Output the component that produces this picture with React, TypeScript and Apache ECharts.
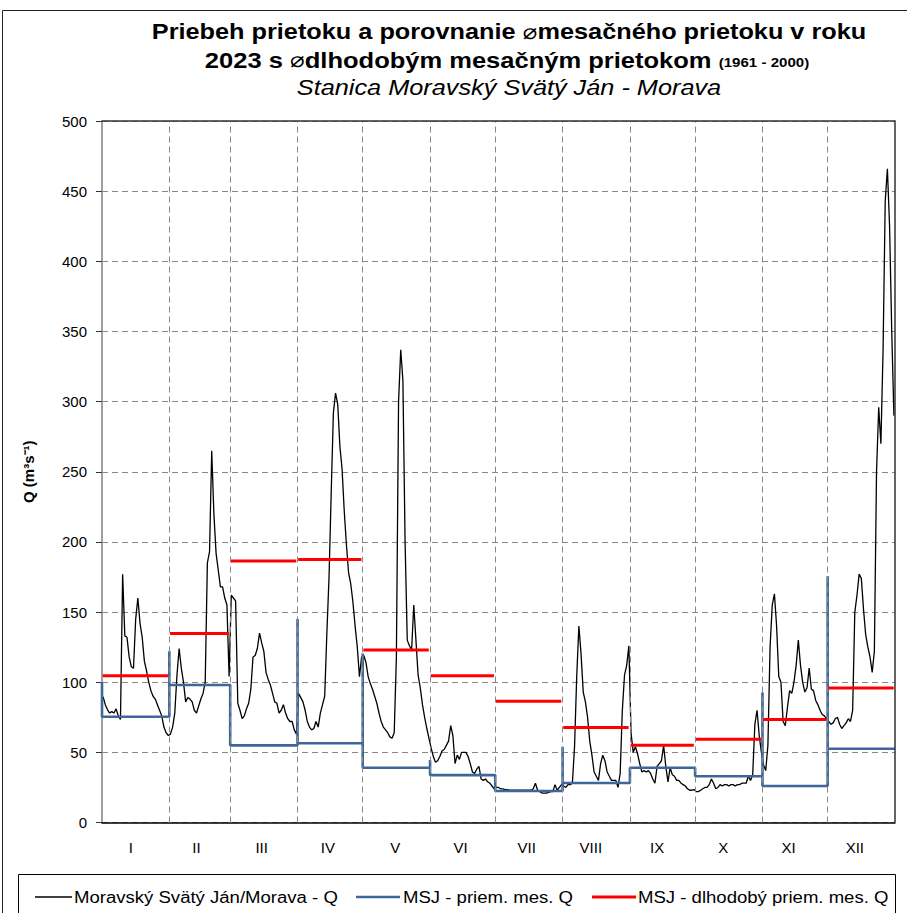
import React, { useEffect, useRef } from "react";
import * as echarts from "echarts";

// ---- data ----
const months = ["I", "II", "III", "IV", "V", "VI", "VII", "VIII", "IX", "X", "XI", "XII"];
const monthStartDays = [0, 31, 59, 90, 120, 151, 181, 212, 243, 273, 304, 334, 365];
const monthLabelDays = [13.3, 43.5, 73.5, 104, 135, 165, 195.5, 225, 255.5, 286, 316, 346.5];

const qJan = [89.6, 84, 80.5, 78, 79, 78, 81, 76, 73.5, 177, 133, 132, 118, 111, 110, 145, 160, 142, 132, 115, 108, 100, 94, 90, 88, 84, 80, 76, 68, 64, 62];
const qFeb = [63, 68, 78, 105, 124, 110, 100, 86, 89, 88, 86, 80, 78, 83, 88, 92, 100, 185, 193, 265, 220, 192, 180, 168, 168, 160, 155, 104];
const qMar = [162, 160, 158, 85, 80, 74, 76, 81, 85, 95, 118, 119, 124, 135, 128, 122, 107, 102, 98, 92, 86, 85, 78, 80, 84, 78, 74, 72, 72, 66, 63];
const qApr = [92, 89, 86, 80, 72, 68, 66, 67, 72, 68, 78, 84, 90, 135, 175, 235, 292, 306, 298, 268, 252, 222, 198, 178, 170, 157, 140, 125, 104, 118];
const qMay = [119, 114, 104, 99, 95, 90, 85, 78, 72, 68, 66, 64, 61, 60, 64, 118, 300, 337, 315, 200, 130, 126, 123, 155, 130, 105, 96, 84, 75, 67, 60];
const qJun = [53, 47, 43, 44, 47, 51, 52, 55, 58, 69, 62, 42, 48, 45, 50, 50, 50, 47, 42, 36, 35, 38, 40, 31, 30, 31, 29, 28, 26, 24];
const qJul = [25, 25, 24, 24, 23.5, 23.5, 23, 23, 23, 23, 23, 23, 23, 23, 23, 23, 23, 24, 28, 23, 22, 21, 21, 21, 21.5, 22, 22, 27, 23, 25, 27];
const qAug = [26, 25, 27, 27, 28, 54, 104, 140, 120, 93, 86, 75, 58, 48, 36, 33, 30, 42, 48, 44, 36, 33, 30, 30, 30, 25, 35, 80, 105, 112, 126];
const qSep = [64, 50, 54, 49, 42, 36, 37, 36, 37, 35, 31, 28, 40, 42, 44, 55, 40, 29, 39, 34, 33, 30, 30, 28, 27, 26, 24, 23, 23, 23.5];
const qOct = [22, 22, 23, 24, 25, 25, 27, 31, 28, 24, 25, 27, 26, 27, 27, 26, 27, 27, 26, 27, 27, 28, 28, 28, 33, 30, 34, 70, 80, 62, 50];
const qNov = [41, 37, 55, 125, 155, 163, 140, 104, 100, 72, 69, 82, 94, 92, 100, 112, 130, 112, 100, 93, 96, 110, 95, 94, 87, 84, 80, 77, 76, 74];
const qDec = [72, 70, 71, 74, 75, 70, 67, 69, 71, 74, 72, 80, 150, 162, 177, 174, 152, 134, 125, 118, 107, 122, 250, 296, 270, 336, 443, 466, 425, 350, 290];

// 2023 monthly mean (blue) and the value the blue line rises to at each month boundary
const monthlyQ2023 = [75.4, 98, 55, 56.5, 39, 33.8, 22.5, 28.2, 39, 33, 26, 52.6];
const monthStartQ2023 = [100, 122, 55, 145, 120.5, 44.5, 22.5, 54, 39, 33, 92.7, 175.6];
// long-term monthly mean 1961-2000 (red)
const longTermQ = [104.6, 134.8, 186.3, 187.5, 122.9, 104.6, 86.5, 67.8, 55, 59.3, 73.5, 95.8];

const yTicks = { min: 0, max: 500, interval: 50 };

const FONT = "'Liberation Sans', Arial, sans-serif";
const BLUE = "#3D6699";

export default function App() {
  const ref = useRef<HTMLDivElement>(null);

  useEffect(() => {
    if (!ref.current) return;
    const chart = echarts.init(ref.current, undefined, { renderer: "svg" });

    const daily = [...qJan, ...qFeb, ...qMar, ...qApr, ...qMay, ...qJun, ...qJul, ...qAug, ...qSep, ...qOct, ...qNov, ...qDec];
    const dailyData = daily.map((v, i) => [i + 0.5, v]);

    const blueData: any[] = [];
    for (let i = 0; i < 12; i++) {
      blueData.push([monthStartDays[i], monthStartQ2023[i]]);
      blueData.push([monthStartDays[i], monthlyQ2023[i]]);
      blueData.push([monthStartDays[i + 1], monthlyQ2023[i]]);
    }

    const redData: any[] = [];
    for (let i = 0; i < 12; i++) {
      redData.push([monthStartDays[i] + 0.3, longTermQ[i]]);
      redData.push([monthStartDays[i + 1] - 0.6, longTermQ[i]]);
      redData.push([monthStartDays[i + 1] - 0.6, "-"]);
    }

    const gridLeft = 102;
    const gridTop = 121;
    const gridRight = 895;
    const gridBottom = 822.5;

    const diam = { fontSize: 21, fontWeight: "normal", fontFamily: "'DejaVu Sans', sans-serif", fill: "#000" };

    chart.setOption({
      animation: false,
      backgroundColor: "#ffffff",
      grid: {
        left: gridLeft,
        top: gridTop,
        width: gridRight - gridLeft,
        height: gridBottom - gridTop,
        containLabel: false,
      },
      xAxis: {
        type: "value",
        min: 0,
        max: 365,
        axisLine: { show: true, lineStyle: { color: "#000", width: 1.5 } },
        axisTick: { show: false },
        splitLine: { show: false },
        axisLabel: {
          customValues: monthLabelDays,
          formatter: (v: number) => {
            const idx = monthLabelDays.findIndex((d) => Math.abs(d - v) < 0.01);
            return idx >= 0 ? months[idx] : "";
          },
          color: "#000",
          fontSize: 15,
          fontFamily: FONT,
          margin: 17,
        },
      },
      yAxis: {
        type: "value",
        min: yTicks.min,
        max: yTicks.max,
        interval: yTicks.interval,
        name: "Q (m³s⁻¹)",
        nameLocation: "middle",
        nameRotate: 90,
        nameGap: 66,
        nameTextStyle: { fontSize: 15, fontWeight: "bold", color: "#000", fontFamily: FONT },
        axisLine: { show: true, lineStyle: { color: "#a0a0a0", width: 2 } },
        axisTick: { show: true, length: 6, inside: false, lineStyle: { color: "#333", width: 1 } },
        axisLabel: { color: "#000", fontSize: 15, fontFamily: FONT, margin: 15 },
        splitLine: { show: true, lineStyle: { color: "#888", width: 1, type: [6, 4] } },
      },
      series: [
        {
          name: "grid-months",
          type: "line",
          data: [],
          silent: true,
          z: 1,
          markLine: {
            silent: true,
            symbol: ["none", "none"],
            label: { show: false },
            lineStyle: { color: "#888", width: 1, type: [6, 4] },
            data: monthStartDays.slice(1, 12).map((d) => ({ xAxis: d })),
          },
        },
        {
          name: "Moravský Svätý Ján/Morava - Q",
          type: "line",
          data: dailyData,
          showSymbol: false,
          symbol: "none",
          lineStyle: { color: "#000", width: 1.3 },
          z: 2,
        },
        {
          name: "MSJ - priem. mes. Q",
          type: "line",
          data: blueData,
          showSymbol: false,
          symbol: "none",
          lineStyle: { color: BLUE, width: 2.6 },
          z: 3,
        },
        {
          name: "MSJ - dlhodobý priem. mes. Q",
          type: "line",
          data: redData,
          showSymbol: false,
          symbol: "none",
          connectNulls: false,
          lineStyle: { color: "#FF0000", width: 3 },
          z: 4,
        },
      ],
      graphic: [
        // outer chart frame
        {
          type: "rect",
          shape: { x: 2.5, y: 10.5, width: 1000, height: 1000 },
          style: { fill: "none", stroke: "#222", lineWidth: 1 },
          silent: true,
        },
        // plot border top/right
        {
          type: "polyline",
          shape: { points: [[gridLeft, gridTop], [gridRight, gridTop], [gridRight, gridBottom]] },
          style: { fill: "none", stroke: "#333", lineWidth: 1.5 },
          silent: true,
          z: 10,
        },
        // titles
        {
          type: "text",
          x: 509,
          y: 32,
          scaleX: 1.15,
          style: {
            text: "Priebeh prietoku a porovnanie {d|⌀}mesačného prietoku v roku",
            rich: { d: diam },
            font: `bold 22px ${FONT}`,
            fill: "#000",
            textAlign: "center",
            textVerticalAlign: "middle",
          },
        },
        {
          type: "text",
          x: 507,
          y: 60,
          scaleX: 1.16,
          style: {
            text: "2023 s {d|⌀}dlhodobým mesačným prietokom {s|(1961 - 2000)}",
            rich: {
              d: diam,
              s: { fontSize: 13, fontWeight: "bold", fontFamily: FONT, fill: "#000", padding: [5, 0, 0, 0] },
            },
            font: `bold 22px ${FONT}`,
            fill: "#000",
            textAlign: "center",
            textVerticalAlign: "middle",
          },
        },
        {
          type: "text",
          x: 509,
          y: 88,
          scaleX: 1.15,
          style: {
            text: "Stanica Moravský Svätý Ján - Morava",
            font: `italic 22px ${FONT}`,
            fill: "#000",
            textAlign: "center",
            textVerticalAlign: "middle",
          },
        },
        // legend box
        {
          type: "rect",
          shape: { x: 18.5, y: 874.5, width: 877, height: 60 },
          style: { fill: "#fff", stroke: "#000", lineWidth: 1 },
          silent: true,
        },
        { type: "line", shape: { x1: 35, y1: 897, x2: 72, y2: 897 }, style: { stroke: "#000", lineWidth: 1.3 } },
        {
          type: "text",
          x: 74,
          y: 897,
          scaleX: 1.16,
          style: { text: "Moravský Svätý Ján/Morava - Q", font: `16px ${FONT}`, fill: "#000", textVerticalAlign: "middle" },
        },
        { type: "line", shape: { x1: 356, y1: 897, x2: 400, y2: 897 }, style: { stroke: BLUE, lineWidth: 2.6 } },
        {
          type: "text",
          x: 403,
          y: 897,
          scaleX: 1.16,
          style: { text: "MSJ - priem. mes. Q", font: `16px ${FONT}`, fill: "#000", textVerticalAlign: "middle" },
        },
        { type: "line", shape: { x1: 592, y1: 897, x2: 636, y2: 897 }, style: { stroke: "#FF0000", lineWidth: 3 } },
        {
          type: "text",
          x: 638,
          y: 897,
          scaleX: 1.16,
          style: { text: "MSJ - dlhodobý priem. mes. Q", font: `16px ${FONT}`, fill: "#000", textVerticalAlign: "middle" },
        },
      ],
    });

    return () => chart.dispose();
  }, []);

  return (
    <div
      ref={ref}
      style={{ position: "fixed", left: 0, top: 0, width: 907, height: 913, background: "#fff" }}
    />
  );
}
